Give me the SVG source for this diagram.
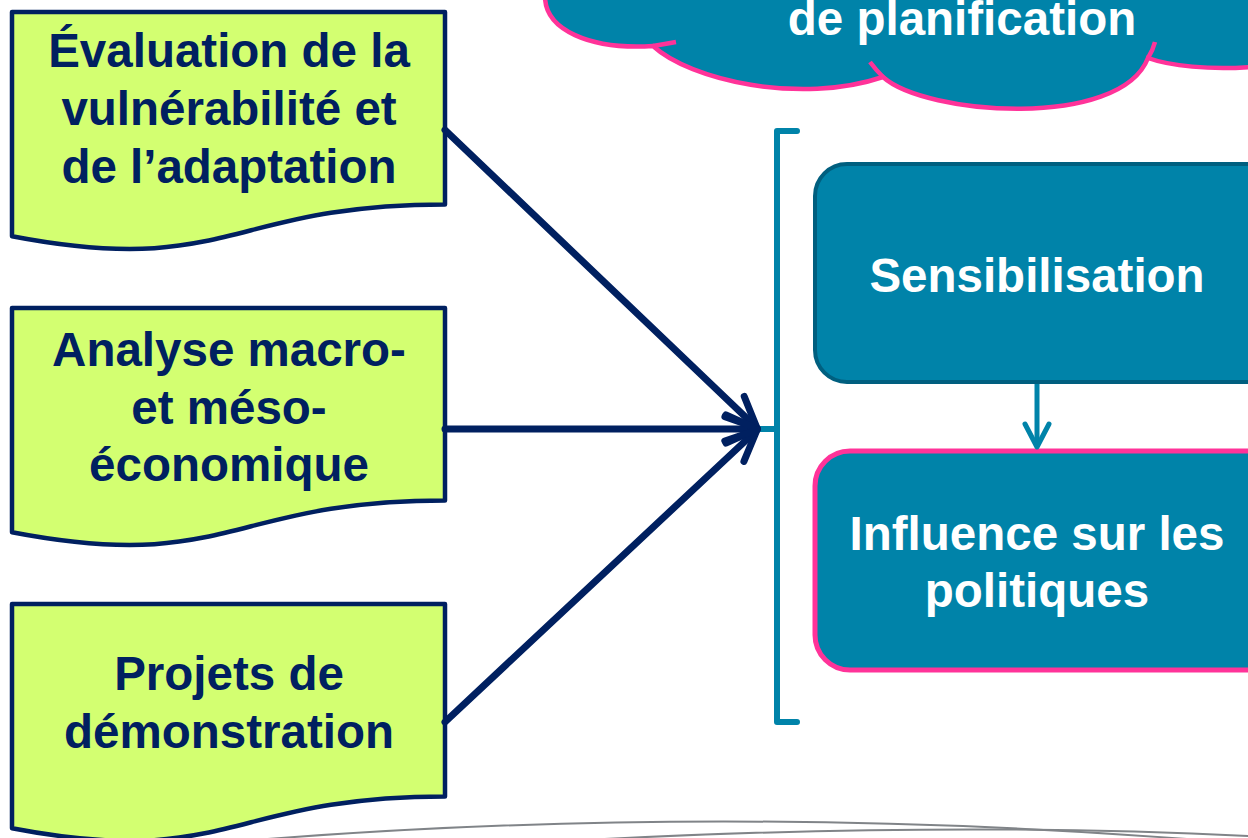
<svg xmlns="http://www.w3.org/2000/svg" width="1248" height="838" viewBox="0 0 1248 838">
<style>
.doc{fill:#D3FF71;stroke:#002060;stroke-width:4.5;stroke-linejoin:round}
.dtxt{font-family:"Liberation Sans",Arial,sans-serif;font-weight:bold;font-size:47.5px;fill:#002060;text-anchor:middle}
.wtxt{font-family:"Liberation Sans",Arial,sans-serif;font-weight:bold;font-size:47.5px;fill:#FFFFFF;text-anchor:middle}
.navy{fill:none;stroke:#002060;stroke-width:7;stroke-linecap:round}
.teal{fill:none;stroke:#0083A9;stroke-width:6;stroke-linecap:round;stroke-linejoin:round}
.pink{fill:none;stroke:#FF3399;stroke-width:4.5;stroke-linecap:butt}
.grey{fill:none;stroke:#808488;stroke-width:2}
</style>
<defs>
<marker id="navyHead" markerUnits="userSpaceOnUse" orient="auto" refX="0" refY="0" markerWidth="60" markerHeight="60" overflow="visible">
<path d="M -31,-14 L 0,0 L -31,14" fill="none" stroke="#002060" stroke-width="7" stroke-linecap="round" stroke-linejoin="round"/>
</marker>
<marker id="tealHead" markerUnits="userSpaceOnUse" orient="auto" refX="0" refY="0" markerWidth="40" markerHeight="40" overflow="visible">
<path d="M -23,-12 L 0,0 L -23,12" fill="none" stroke="#0083A9" stroke-width="5" stroke-linecap="round" stroke-linejoin="round"/>
</marker>
</defs>
<rect width="1248" height="838" fill="#FFFFFF"/>

<g id="cloud">
<path d="M 545,-10 L 545,-5 C 544,30 590,50 653,46 C 690,80 800,105 883,77 C 925,115 1120,130 1148,58 C 1170,66 1210,70 1250,67 L 1250,-10 Z" fill="#0083A9"/>
<path class="pink" d="M 545,-5 C 544,30 590,50 653,46 C 690,80 800,105 883,77 C 925,115 1120,130 1148,58 C 1170,66 1210,70 1250,67"/>
<path class="pink" d="M 653,46 Q 665,44 676,42"/>
<path class="pink" d="M 870,62 Q 876,70 883,77"/>
<path class="pink" d="M 1148,58 Q 1153,50 1155,42"/>
<text class="wtxt" x="962" y="35">de planification</text>
</g>

<g id="doc1">
<path class="doc" d="M 12,12 H 445 V 204.5 C 228.5,204.5 228.5,277.8 12,236.2 Z"/>
<text class="dtxt" x="229" y="67">Évaluation de la</text>
<text class="dtxt" x="229" y="125">vulnérabilité et</text>
<text class="dtxt" x="229" y="183">de l’adaptation</text>
</g>

<g id="doc2">
<path class="doc" d="M 12,308 H 445 V 500.5 C 228.5,500.5 228.5,573.8 12,532.2 Z"/>
<text class="dtxt" x="229" y="366">Analyse macro-</text>
<text class="dtxt" x="229" y="424">et méso-</text>
<text class="dtxt" x="229" y="481">économique</text>
</g>

<g id="doc3">
<path class="doc" d="M 12,604 H 445 V 796.5 C 228.5,796.5 228.5,869.8 12,828.2 Z"/>
<text class="dtxt" x="229" y="690">Projets de</text>
<text class="dtxt" x="229" y="748">démonstration</text>
</g>

<g id="bracket">
<path class="teal" d="M 797,131 H 777 V 722 H 797"/>
<path class="teal" d="M 777,429 H 758"/>
</g>

<g id="sensibilisation">
<rect x="815" y="164" width="470" height="218" rx="32" ry="32" fill="#0083A9" stroke="#005F7F" stroke-width="4"/>
<text class="wtxt" x="1037" y="292">Sensibilisation</text>
</g>

<g id="influence">
<rect x="815" y="451" width="470" height="219" rx="35" ry="35" fill="#0083A9" stroke="#FF3399" stroke-width="5"/>
<text class="wtxt" x="1037" y="550">Influence sur les</text>
<text class="wtxt" x="1037" y="607">politiques</text>
</g>

<g id="connectors">
<path class="navy" d="M 445,130 L 757,428" marker-end="url(#navyHead)"/>
<path class="navy" d="M 445,429 L 757,429" marker-end="url(#navyHead)"/>
<path class="navy" d="M 445,722 L 757,430" marker-end="url(#navyHead)"/>
<path d="M 1037,384 L 1037,447" fill="none" stroke="#0083A9" stroke-width="5" marker-end="url(#tealHead)"/>
</g>

<g id="decor">
<path class="grey" d="M 255,840 Q 720,803 1200,840"/>
<path class="grey" d="M 585,840 Q 950,821 1250,836"/>
</g>
</svg>
